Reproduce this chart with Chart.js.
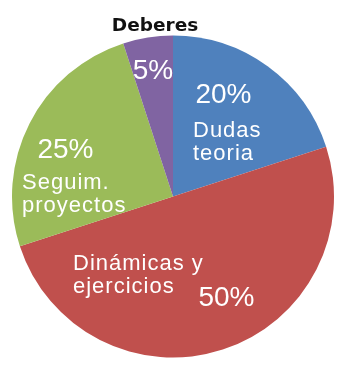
<!DOCTYPE html>
<html>
<head>
<meta charset="utf-8">
<script src="https://cdn.jsdelivr.net/npm/chart.js@4/dist/chart.umd.min.js"></script>
<style>
  html, body { margin: 0; padding: 0; background: #ffffff; }
  #wrap { width: 357px; height: 374px; }
</style>
</head>
<body>
<div id="wrap"><canvas id="c" width="357" height="374"></canvas></div>
<script>
// ---- data ----
const categories = ['Dudas teoria', 'Dinámicas y ejercicios', 'Seguim. proyectos', 'Deberes'];
const categoryLines = [['Dudas', 'teoria'], ['Dinámicas y', 'ejercicios'], ['Seguim.', 'proyectos'], ['Deberes']];
const values = [20, 50, 25, 5];
const colors = ['#4F81BD', '#C0504D', '#9BBB59', '#8064A2'];

const total = values.reduce((a, b) => a + b, 0);
const pctText = values.map(v => Math.round(v / total * 100) + '%');

// label placement relative to pie centre (layout only)
const labelLayout = [
  { pct: [50.5, -93.5], name: [20, -59.5], align: 'left', nameColor: '#ffffff' },
  { pct: [53.5, 109.5], name: [-100, 73.5], align: 'left', nameColor: '#ffffff' },
  { pct: [-107.5, -38.5], name: [-151, -7.5], align: 'left', nameColor: '#ffffff' },
  { pct: [-20, -117.5], name: [-18, -165.5], align: 'center', nameColor: '#111111', bold: true }
];

const labelPlugin = {
  id: 'pieLabels',
  afterDatasetsDraw(chart) {
    const ctx = chart.ctx;
    const meta = chart.getDatasetMeta(0);
    const cx = meta.data[0].x, cy = meta.data[0].y;
    ctx.save();
    ctx.textBaseline = 'alphabetic';
    labelLayout.forEach((L, i) => {
      // percent
      ctx.font = '28px "Liberation Sans", Arial, sans-serif';
      try { ctx.letterSpacing = '0px'; } catch (e) {}
      ctx.fillStyle = '#ffffff';
      ctx.textAlign = 'center';
      ctx.fillText(pctText[i], cx + L.pct[0], cy + L.pct[1]);
      // category name
      const lines = categoryLines[i];
      if (L.bold) {
        ctx.font = 'bold 18.5px "DejaVu Sans", sans-serif';
        try { ctx.letterSpacing = '0px'; } catch (e) {}
      } else {
        ctx.font = '22px "Liberation Sans", Arial, sans-serif';
        try { ctx.letterSpacing = '1px'; } catch (e) {}
      }
      ctx.fillStyle = L.nameColor;
      ctx.textAlign = L.align;
      lines.forEach((t, k) => {
        ctx.fillText(t, cx + L.name[0], cy + L.name[1] + k * 22.5);
      });
    });
    ctx.restore();
  }
};

new Chart(document.getElementById('c'), {
  type: 'pie',
  data: {
    labels: categories,
    datasets: [{
      data: values,
      backgroundColor: colors,
      borderWidth: 0
    }]
  },
  options: {
    responsive: false,
    animation: false,
    layout: { padding: { left: 12, right: 23, top: 35.5, bottom: 16.5 } },
    plugins: {
      legend: { display: false },
      tooltip: { enabled: false }
    }
  },
  plugins: [labelPlugin]
});
</script>
</body>
</html>
